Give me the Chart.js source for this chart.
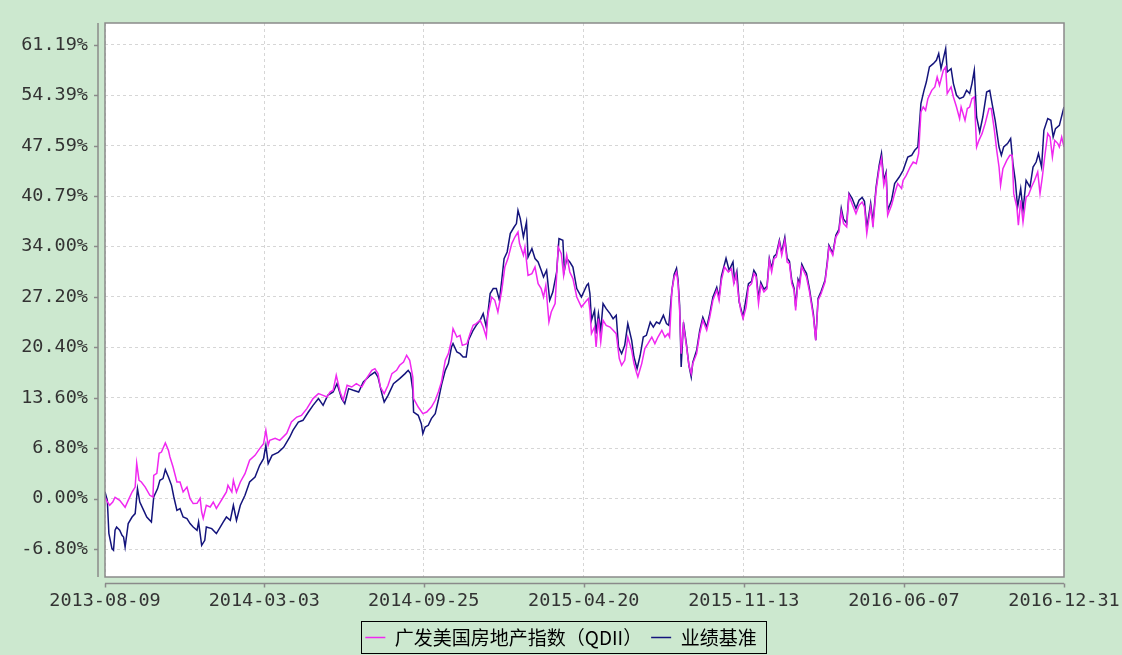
<!DOCTYPE html>
<html>
<head>
<meta charset="utf-8">
<script src="https://cdn.jsdelivr.net/npm/chart.js@4.4.1/dist/chart.umd.min.js"></script>
<style>
  html, body { margin: 0; padding: 0; background: #cce8cf; }
  #wrap { width: 1122px; height: 655px; }
</style>
</head>
<body>
<div id="wrap"><canvas id="myChart" width="1122" height="655"></canvas></div>
<script>
// x values are days since the first date
const startDate = "2013-08-09";
const xTickLabels = ["2013-08-09", "2014-03-03", "2014-09-25", "2015-04-20", "2015-11-13", "2016-06-07", "2016-12-31"];
const yTicks = [-6.8, 0, 6.8, 13.6, 20.4, 27.2, 34.0, 40.79, 47.59, 54.39, 61.19];
const seriesNames = ["广发美国房地产指数（QDII）", "业绩基准"];

const fundDays = [
  0, 2, 6, 10, 13, 19, 26, 30, 35, 39,
  41, 44, 47, 52, 58, 62, 63, 67, 70, 73,
  78, 82, 84, 88, 93, 97, 101, 106, 110, 114,
  119, 123, 125, 127, 131, 136, 140, 144, 149, 153,
  157, 159, 164, 166, 170, 175, 181, 187, 194, 200,
  205, 208, 211, 213, 220, 226, 235, 241, 248, 254,
  261, 269, 276, 282, 287, 291, 295, 299, 304, 308,
  313, 319, 325, 332, 338, 345, 349, 353, 356, 361,
  366, 371, 377, 381, 386, 390, 394, 398, 399, 405,
  411, 416, 422, 427, 431, 435, 440, 444, 448, 450,
  455, 459, 462, 468, 472, 476, 480, 485, 489, 493,
  495, 500, 504, 508, 513, 517, 521, 526, 530, 534,
  536, 541, 543, 547, 552, 556, 560, 564, 567, 570,
  574, 577, 582, 586, 590, 593, 597, 601, 605, 610,
  616, 623, 625, 627, 629, 633, 635, 638, 641, 644,
  648, 653, 657, 661, 665, 668, 672, 676, 681, 684,
  687, 689, 694, 698, 702, 707, 711, 715, 720, 724,
  728, 730, 733, 736, 739, 741, 743, 745, 748, 752,
  755, 758, 760, 765, 769, 773, 778, 782, 786, 791,
  794, 797, 801, 806, 810, 813, 816, 819, 822, 825,
  829, 832, 836, 839, 842, 845, 848, 852, 856, 859,
  862, 865, 868, 872, 875, 879, 882, 885, 888, 891,
  893, 896, 898, 901, 904, 907, 911, 916, 919, 922,
  926, 931, 934, 936, 941, 945, 949, 952, 955, 959,
  962, 966, 971, 975, 979, 982, 985, 990, 993, 997,
  1001, 1004, 1007, 1010, 1012, 1017, 1021, 1025, 1030, 1032,
  1036, 1041, 1045, 1049, 1052, 1055, 1058, 1061, 1064, 1069,
  1073, 1076, 1079, 1084, 1087, 1089, 1094, 1097, 1101, 1105,
  1107, 1112, 1115, 1118, 1121, 1124, 1127, 1130, 1134, 1138,
  1143, 1146, 1150, 1153, 1156, 1158, 1161, 1166, 1170, 1173,
  1175, 1179, 1181, 1184, 1187, 1191, 1194, 1198, 1202, 1206,
  1209, 1212, 1215, 1219, 1222, 1225, 1228, 1232, 1234, 1237, 1240
];
const fundValues = [
  0.22, -0.23, -0.90, -0.46, 0.18, -0.23, -1.17, -0.23, 0.89, 1.56,
  4.76, 2.47, 2.24, 1.56, 0.45, 0.22, 3.14, 3.41, 6.11, 6.28,
  7.50, 6.51, 5.61, 4.26, 2.24, 2.24, 0.89, 1.56, 0.00, -0.67,
  -0.63, 0.04, -1.81, -2.66, -0.90, -1.13, -0.46, -1.31, -0.46, 0.22,
  0.89, 1.79, 0.89, 2.47, 0.89, 2.24, 3.37, 5.17, 5.84, 6.74,
  7.42, 9.21, 7.19, 7.86, 8.13, 7.86, 8.81, 10.33, 11.00, 11.23,
  12.14, 13.49, 14.16, 13.93, 13.70, 14.38, 14.61, 16.63, 14.38, 13.26,
  15.28, 15.05, 15.51, 15.05, 16.18, 17.30, 17.53, 16.86, 15.05, 14.16,
  15.28, 16.86, 17.30, 17.98, 18.42, 19.33, 18.65, 16.40, 13.49, 12.35,
  11.46, 11.68, 12.35, 13.26, 14.38, 15.72, 18.65, 19.55, 21.35, 22.93,
  21.79, 22.02, 20.67, 20.90, 22.25, 23.37, 23.60, 24.05, 23.14, 21.79,
  24.72, 27.19, 26.74, 25.16, 28.09, 31.23, 32.37, 34.39, 35.28, 35.95,
  34.39, 32.81, 33.93, 30.11, 30.34, 31.23, 28.99, 28.32, 27.19, 28.77,
  23.82, 25.16, 26.30, 33.93, 33.04, 30.11, 32.81, 30.56, 29.67, 27.19,
  25.84, 26.74, 26.97, 25.39, 22.25, 23.14, 20.44, 24.27, 21.12, 24.05,
  23.37, 23.14, 22.70, 22.25, 18.88, 17.98, 18.65, 21.79, 20.00, 18.21,
  17.07, 16.40, 18.21, 20.23, 20.90, 21.79, 20.90, 21.79, 22.70, 21.79,
  22.25, 21.79, 28.09, 29.88, 30.56, 28.99, 25.39, 19.55, 23.37, 20.44,
  17.98, 16.86, 18.21, 19.55, 22.25, 24.05, 22.70, 24.49, 26.74, 28.09,
  26.74, 29.44, 31.23, 30.56, 31.02, 28.99, 30.34, 27.42, 25.39, 24.27,
  25.84, 28.54, 28.99, 30.34, 29.88, 26.30, 28.77, 27.86, 28.32, 32.14,
  30.56, 32.37, 32.58, 34.61, 32.81, 34.83, 31.91, 31.69, 28.99, 28.09,
  25.39, 29.21, 28.54, 31.23, 30.56, 29.88, 27.86, 24.49, 21.35, 26.74,
  27.65, 29.21, 31.69, 33.93, 32.81, 35.28, 35.95, 38.65, 37.09, 36.63,
  40.90, 39.78, 38.44, 39.55, 40.00, 39.33, 35.74, 39.33, 36.63, 41.58,
  44.50, 45.85, 42.25, 43.60, 38.21, 39.55, 41.13, 42.48, 41.81, 42.93,
  43.60, 44.72, 45.39, 45.18, 46.53, 52.14, 52.81, 52.37, 53.94, 55.06,
  55.51, 56.86, 55.74, 57.76, 58.21, 54.62, 55.51, 54.16, 52.81, 51.25,
  52.81, 51.02, 52.60, 52.81, 53.94, 54.16, 47.42, 48.32, 49.22, 50.57,
  52.60, 52.60, 49.67, 46.97, 44.72, 42.25, 44.50, 45.62, 46.30, 46.30,
  41.13, 39.33, 36.86, 40.23, 37.30, 40.67, 40.90, 42.02, 42.93, 44.05,
  41.13, 43.37, 46.07, 49.22, 48.77, 46.07, 48.32, 47.88, 47.42, 48.77, 47.42
];

const benchDays = [
  0, 3, 5, 9, 11, 13, 15, 19, 22, 24,
  26, 30, 35, 39, 42, 45, 50, 54, 60, 63,
  68, 71, 75, 78, 82, 86, 89, 93, 97, 101,
  106, 110, 114, 119, 121, 125, 129, 131, 138, 144,
  149, 153, 157, 162, 166, 170, 175, 181, 187, 194,
  200, 205, 208, 211, 216, 224, 231, 239, 243, 250,
  256, 263, 269, 276, 282, 288, 295, 300, 306, 310,
  315, 321, 328, 334, 343, 349, 353, 358, 361, 366,
  373, 381, 388, 392, 395, 398, 399, 405, 409, 411,
  414, 418, 422, 427, 431, 435, 440, 444, 448, 450,
  455, 459, 463, 467, 470, 476, 480, 485, 489, 493,
  498, 502, 506, 510, 513, 516, 520, 524, 529, 532,
  534, 537, 541, 545, 547, 552, 556, 560, 564, 567,
  571, 575, 579, 584, 587, 592, 594, 597, 601, 605,
  610, 616, 623, 625, 627, 629, 633, 635, 638, 641,
  644, 648, 653, 657, 661, 664, 668, 672, 676, 681,
  684, 688, 692, 696, 700, 705, 709, 713, 717, 722,
  726, 729, 733, 736, 739, 741, 743, 745, 748, 752,
  755, 758, 760, 765, 769, 773, 778, 782, 786, 791,
  794, 797, 803, 807, 812, 814, 817, 820, 825, 832,
  836, 839, 842, 845, 848, 852, 856, 859, 862, 865,
  868, 872, 875, 879, 882, 885, 888, 891, 893, 896,
  898, 901, 904, 907, 911, 916, 919, 922, 926, 931,
  934, 936, 941, 945, 949, 952, 955, 959, 962, 966,
  971, 975, 979, 982, 985, 990, 993, 997, 1001, 1004,
  1007, 1010, 1012, 1017, 1021, 1027, 1032, 1038, 1043, 1047,
  1051, 1055, 1059, 1062, 1066, 1071, 1075, 1078, 1081, 1084,
  1087, 1089, 1094, 1097, 1101, 1105, 1110, 1114, 1118, 1121,
  1124, 1127, 1131, 1135, 1140, 1144, 1147, 1151, 1156, 1159,
  1162, 1167, 1171, 1174, 1177, 1180, 1184, 1187, 1191, 1196,
  1200, 1204, 1207, 1211, 1214, 1219, 1223, 1226, 1229, 1234, 1240
];
const benchValues = [
  0.89, -0.23, -4.68, -6.74, -6.97, -4.27, -3.83, -4.27, -4.95, -5.18,
  -6.53, -3.37, -2.48, -2.02, 1.35, -0.46, -1.58, -2.48, -3.15, 0.22,
  1.35, 2.47, 2.70, 3.91, 2.91, 1.79, 0.22, -1.58, -1.35, -2.48,
  -2.70, -3.37, -3.83, -4.27, -3.15, -6.30, -5.62, -3.83, -4.05, -4.72,
  -3.83, -3.15, -2.48, -2.93, -0.90, -2.93, -0.90, 0.45, 2.24, 2.91,
  4.49, 5.39, 7.19, 4.72, 5.84, 6.24, 6.92, 8.31, 9.21, 10.33,
  10.56, 11.68, 12.58, 13.49, 12.58, 13.93, 14.38, 15.51, 13.49, 12.81,
  14.83, 14.61, 14.38, 15.72, 16.63, 17.07, 16.40, 14.16, 13.03, 13.93,
  15.51, 16.18, 16.86, 17.30, 16.86, 14.61, 11.68, 11.23, 10.11, 8.77,
  9.66, 9.89, 10.79, 11.46, 13.26, 15.28, 17.30, 18.21, 20.44, 20.90,
  19.77, 19.55, 19.10, 19.10, 21.35, 22.70, 23.37, 24.05, 24.95, 23.14,
  27.65, 28.32, 28.32, 26.74, 29.44, 32.37, 33.26, 35.74, 36.63, 37.09,
  38.88, 37.76, 35.28, 37.30, 32.58, 33.72, 32.37, 31.91, 30.79, 29.88,
  30.79, 26.74, 27.86, 30.56, 35.06, 34.83, 30.79, 32.37, 31.91, 31.23,
  28.32, 27.19, 28.77, 28.99, 27.65, 24.05, 25.39, 22.25, 24.95, 22.70,
  26.30, 25.62, 24.95, 24.27, 24.72, 20.44, 19.55, 20.67, 23.60, 21.35,
  19.10, 17.53, 19.33, 21.79, 22.02, 23.82, 23.14, 23.82, 23.60, 24.72,
  23.60, 23.37, 28.09, 30.25, 31.06, 29.44, 26.07, 17.75, 23.78, 20.67,
  17.98, 16.40, 18.38, 20.00, 22.70, 24.45, 23.10, 24.99, 27.15, 28.50,
  27.15, 29.98, 32.41, 30.79, 31.91, 29.44, 30.65, 26.51, 24.49, 28.99,
  29.30, 30.79, 30.25, 27.01, 29.17, 28.23, 28.63, 32.41, 31.06, 32.68,
  32.95, 34.84, 33.22, 35.24, 32.41, 32.00, 29.44, 28.36, 25.93, 29.58,
  29.04, 31.60, 30.92, 30.38, 28.23, 24.86, 21.35, 27.01, 27.95, 29.44,
  32.00, 34.16, 33.08, 35.51, 36.32, 39.15, 37.67, 37.13, 41.17, 40.50,
  39.15, 40.23, 40.63, 40.09, 36.45, 39.82, 37.26, 41.98, 44.95, 46.56,
  42.93, 44.00, 38.88, 40.23, 42.48, 43.37, 44.27, 46.07, 46.30, 46.97,
  47.42, 53.27, 55.06, 56.18, 58.21, 58.66, 59.11, 60.01, 57.99, 59.34,
  60.69, 57.53, 57.99, 55.97, 54.39, 53.94, 54.16, 55.06, 54.62, 55.97,
  57.76, 51.46, 49.44, 51.46, 54.83, 55.06, 53.27, 51.02, 47.42, 46.30,
  47.42, 47.88, 48.55, 45.18, 42.93, 39.33, 41.81, 38.88, 42.93, 42.02,
  44.72, 45.39, 46.53, 44.72, 49.67, 51.25, 51.02, 48.77, 49.90, 50.34, 52.81
];

const dayOf = (s) => Math.round((Date.parse(s) - Date.parse(startDate)) / 86400000);
const xTickDays = xTickLabels.map(dayOf);
const toPoints = (days, values) => days.map((d, i) => ({ x: d, y: values[i] }));

const axisFont = { family: "DejaVu Sans Mono", size: 18.5 };

// green page, white plot, gray frame and offset axis lines, legend box
const frame = {
  id: "frame",
  beforeDraw(chart) {
    const { ctx, chartArea: a } = chart;
    ctx.save();
    ctx.fillStyle = "#cce8cf";
    ctx.fillRect(0, 0, chart.width, chart.height);
    ctx.fillStyle = "#ffffff";
    ctx.fillRect(a.left, a.top, a.right - a.left, a.bottom - a.top);
    ctx.restore();
  },
  afterDraw(chart) {
    const { ctx, chartArea: a, scales } = chart;
    ctx.save();
    ctx.strokeStyle = "#8a8a8a";
    ctx.lineWidth = 1.5;
    ctx.strokeRect(a.left, a.top, a.right - a.left, a.bottom - a.top);

    const ax = a.left - 7;
    ctx.beginPath();
    ctx.moveTo(ax, a.top);
    ctx.lineTo(ax, a.bottom);
    for (const v of yTicks) {
      const py = Math.round(scales.y.getPixelForValue(v)) + 0.5;
      ctx.moveTo(ax - 4, py);
      ctx.lineTo(ax, py);
    }
    const ay = a.bottom + 6.5;
    ctx.moveTo(a.left, ay);
    ctx.lineTo(a.right, ay);
    for (const d of xTickDays) {
      const px = Math.round(scales.x.getPixelForValue(d)) + 0.5;
      ctx.moveTo(px, ay);
      ctx.lineTo(px, ay + 4);
    }
    ctx.stroke();

    const boxes = chart.legend.legendHitBoxes;
    if (boxes && boxes.length) {
      const first = boxes[0];
      const last = boxes[boxes.length - 1];
      ctx.strokeStyle = "#000000";
      ctx.lineWidth = 1;
      const l = Math.round(first.left) - 3.5;
      const r = Math.round(last.left + last.width) + 9.5;
      const t = Math.round(first.top) - 6.5;
      const b = Math.round(first.top + first.height) + 6.5;
      ctx.strokeRect(l, t, r - l, b - t);
    }
    ctx.restore();
  }
};

const ctx = document.getElementById("myChart");

new Chart(ctx, {
  type: "line",
  data: {
    datasets: [
      {
        label: seriesNames[0],
        data: toPoints(fundDays, fundValues),
        borderColor: "#f028f0",
        backgroundColor: "#f028f0",
        borderWidth: 1.5,
        pointRadius: 0,
        pointStyle: "line",
        tension: 0,
      },
      {
        label: seriesNames[1],
        data: toPoints(benchDays, benchValues),
        borderColor: "#14147c",
        backgroundColor: "#14147c",
        borderWidth: 1.5,
        pointRadius: 0,
        pointStyle: "line",
        tension: 0,
      },
    ],
  },
  options: {
    responsive: false,
    animation: false,
    devicePixelRatio: 1,
    layout: { padding: { left: 0, right: 0, top: 23, bottom: 0 } },
    plugins: {
      tooltip: { enabled: false },
      legend: {
        position: "bottom",
        maxHeight: 36,
        labels: {
          usePointStyle: true,
          pointStyle: "line",
          pointStyleWidth: 20,
          padding: 9,
          color: "#000000",
          font: { family: "Noto Sans CJK SC", size: 19 },
        },
      },
    },
    scales: {
      x: {
        type: "linear",
        min: 0,
        max: 1240,
        afterBuildTicks: (s) => { s.ticks = xTickDays.map((v) => ({ value: v })); },
        afterFit: (s) => {
          s.height = 42;
          s.paddingLeft = 0;
          s.paddingRight = 58;
        },
        grid: { color: "#d6d6d6", lineWidth: 1, drawTicks: false },
        border: { display: false, dash: [3, 3] },
        ticks: {
          autoSkip: false,
          maxRotation: 0,
          padding: 13,
          color: "#333333",
          font: axisFont,
          callback: (v, i) => xTickLabels[i],
        },
      },
      y: {
        min: -10.57,
        max: 64.14,
        afterBuildTicks: (s) => { s.ticks = yTicks.map((v) => ({ value: v })); },
        afterFit: (s) => {
          s.width = 105;
          s.paddingTop = 0;
          s.paddingBottom = 0;
        },
        grid: { color: "#d6d6d6", lineWidth: 1, drawTicks: false },
        border: { display: false, dash: [3, 3] },
        ticks: {
          padding: 17,
          color: "#333333",
          font: axisFont,
          callback: (v) => v.toFixed(2) + "%",
        },
      },
    },
  },
  plugins: [frame],
});
</script>
</body>
</html>
